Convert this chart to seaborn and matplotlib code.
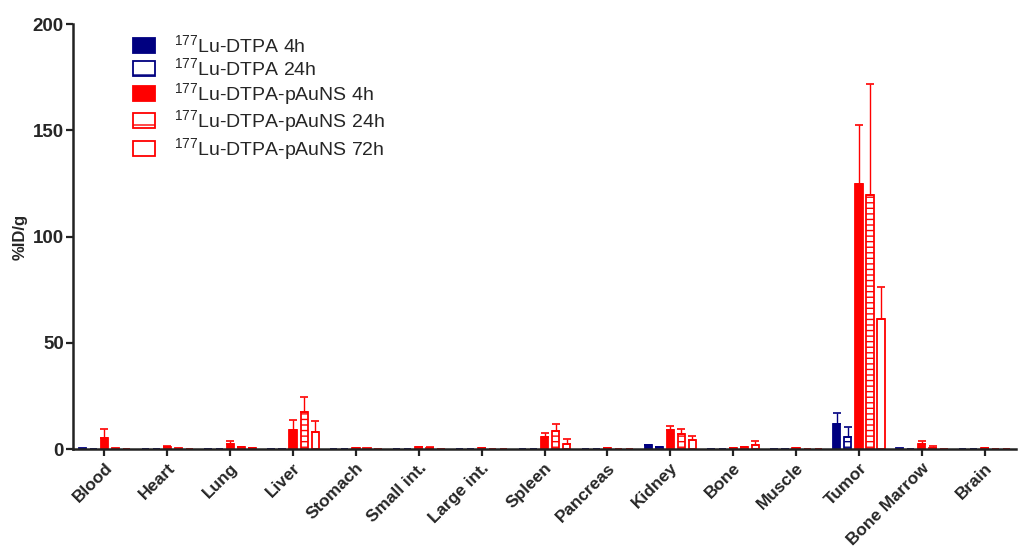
import numpy as np
import pandas as pd
import seaborn as sns
import matplotlib
matplotlib.use("Agg")
import matplotlib.pyplot as plt
from matplotlib.patches import Patch

organs = ["Blood", "Heart", "Lung", "Liver", "Stomach", "Small int.", "Large int.",
          "Spleen", "Pancreas", "Kidney", "Bone", "Muscle", "Tumor", "Bone Marrow", "Brain"]
groups = ["DTPA 4h", "DTPA 24h", "pAuNS 4h", "pAuNS 24h", "pAuNS 72h"]
labels = [r"$^{177}$Lu-DTPA 4h", r"$^{177}$Lu-DTPA 24h", r"$^{177}$Lu-DTPA-pAuNS 4h",
          r"$^{177}$Lu-DTPA-pAuNS 24h", r"$^{177}$Lu-DTPA-pAuNS 72h"]

dtpa_4h = [0.3, 0.2, 0.2, 0.2, 0.2, 0.2, 0.2, 0.2, 0.2, 1.8, 0.2, 0.2, 11.6, 0.3, 0.1]
dtpa_4h_err = [0, 0, 0, 0, 0, 0, 0, 0, 0, 0.3, 0, 0, 5.5, 0, 0]
dtpa_24h = [0.2, 0.1, 0.1, 0.1, 0.1, 0.1, 0.1, 0.1, 0.1, 0.8, 0.1, 0.1, 5.8, 0.1, 0.1]
dtpa_24h_err = [0, 0, 0, 0, 0, 0, 0, 0, 0, 0.2, 0, 0, 4.7, 0, 0]
pauns_4h = [5.2, 0.9, 2.4, 9.0, 0.5, 0.8, 0.5, 5.8, 0.5, 8.9, 0.5, 0.3, 124.7, 2.3, 0.3]
pauns_4h_err = [4.2, 0.4, 1.4, 4.6, 0.1, 0.3, 0.1, 1.9, 0.1, 2.1, 0.1, 0.1, 27.8, 1.5, 0.1]
pauns_24h = [0.3, 0.3, 0.8, 17.6, 0.3, 0.7, 0.2, 8.5, 0.2, 7.0, 0.8, 0.2, 119.8, 0.4, 0.0]
pauns_24h_err = [0, 0, 0.3, 6.8, 0, 0.2, 0, 3.3, 0, 2.3, 0.3, 0, 51.8, 1.1, 0]
pauns_72h = [0.2, 0.2, 0.4, 8.0, 0.2, 0.2, 0.2, 2.4, 0.2, 4.2, 2.1, 0.2, 61.2, 0.0, 0.0]
pauns_72h_err = [0, 0, 0.1, 5.2, 0, 0, 0, 2.5, 0, 1.9, 1.5, 0, 15.2, 0, 0]

values = [dtpa_4h, dtpa_24h, pauns_4h, pauns_24h, pauns_72h]
errors = [dtpa_4h_err, dtpa_24h_err, pauns_4h_err, pauns_24h_err, pauns_72h_err]

rows = []
for g, vals, errs in zip(groups, values, errors):
    for o, v, e in zip(organs, vals, errs):
        rows.append({"organ": o, "group": g, "value": v, "err": e})
df = pd.DataFrame(rows)

navy = "#000080"
red = "#ff0000"
colors = [navy, navy, red, red, red]
faces = [navy, "white", red, "white", "white"]
hatches = [None, "---", None, "---", None]
leg_hatches = [None, "-", None, "-", None]

sns.set_style("ticks")
plt.rcParams["font.family"] = ["Liberation Sans", "DejaVu Sans"]
plt.rcParams["mathtext.default"] = "regular"
plt.rcParams["hatch.linewidth"] = 1.0

fig = plt.figure(figsize=(10.24, 5.49), dpi=100)
ax = fig.add_axes([0.0713, 0.182, 0.921, 0.774])

sns.barplot(data=df, x="organ", y="value", hue="group", order=organs, hue_order=groups,
            palette=colors, width=0.88, gap=0.35, errorbar=None, ax=ax, legend=False)

bar_containers = list(ax.containers)
for i, cont in enumerate(bar_containers):
    xs, ys = [], []
    for bar in cont:
        bar.set_facecolor(faces[i])
        bar.set_edgecolor(colors[i])
        bar.set_linewidth(1.3)
        if hatches[i]:
            bar.set_hatch(hatches[i])
        xs.append(bar.get_x() + bar.get_width() / 2)
        ys.append(bar.get_height())
    errs = np.array(errors[i])
    mask = errs > 0
    ax.errorbar(np.array(xs)[mask], np.array(ys)[mask],
                yerr=[np.zeros(mask.sum()), errs[mask]],
                fmt="none", ecolor=colors[i], elinewidth=1.0, capsize=3, capthick=1.2)

ax.set_xlim(-0.5, 14.5)
ax.set_ylim(0, 200)
ax.set_yticks([0, 50, 100, 150, 200])
ax.set_xlabel("")
ax.set_ylabel("%ID/g", fontsize=12, fontweight="bold", labelpad=4)
for s in ["top", "right"]:
    ax.spines[s].set_visible(False)
for s in ["left", "bottom"]:
    ax.spines[s].set_linewidth(1.8)
    ax.spines[s].set_color("#222222")
ax.tick_params(axis="both", width=1.6, length=5, color="#222222")
ax.tick_params(axis="y", labelsize=13.5, pad=1.5)
ax.tick_params(axis="x", labelsize=12.4, pad=3)
plt.setp(ax.get_yticklabels(), fontweight="bold")
plt.setp(ax.get_xticklabels(), fontweight="bold", rotation=45, ha="right",
         rotation_mode="anchor")

handles = [Patch(facecolor=faces[i], edgecolor=colors[i], hatch=leg_hatches[i], linewidth=1.3)
           for i in range(5)]
ax.legend(handles, labels, loc="upper left", bbox_to_anchor=(0.055, 0.995), frameon=False,
          fontsize=14, handlelength=1.15, handleheight=0.8, handletextpad=1.0,
          labelspacing=0.08, borderaxespad=0.0)

fig.savefig("out.png", dpi=100)
